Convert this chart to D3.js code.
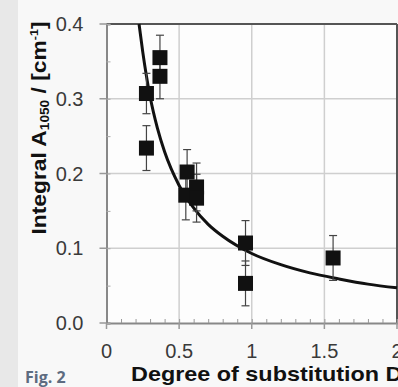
<!doctype html>
<html lang="en">
  <head>
    <meta charset="utf-8">
    <title>Integral A1050 vs degree of substitution</title>
    <script src="https://d3js.org/d3.v7.min.js"></script>
    <style>
      body { margin: 0; background: #f7f7f7; overflow: hidden; }
      .tickLabel { font-family: Arial, 'Liberation Sans', sans-serif; font-size: 20px; fill: #3a3a3a; }
      .axisTitle { font-family: Arial, 'Liberation Sans', sans-serif; font-size: 20px; font-weight: bold; fill: #111; }
    </style>
  </head>
  <body>
    <div id="holder"></div>
  </body>
  <script>
      // measured points (DS, integral) with error
      const dsValues = [0.275, 0.275, 0.368, 0.368, 0.555, 0.546, 0.62, 0.62, 0.957, 0.957, 1.56];
      const integralValues = [0.307, 0.234, 0.355, 0.330, 0.202, 0.171, 0.182, 0.167, 0.107, 0.053, 0.087];
      const errValues = [0.027, 0.03, 0.03, 0.03, 0.03, 0.033, 0.032, 0.032, 0.03, 0.03, 0.03];

      // fitted curve
      const fitX = [0.224, 0.25, 0.3, 0.35, 0.4, 0.5, 0.6, 0.7, 0.8, 1.0, 1.2, 1.4, 1.6, 1.8, 2.0];
      const fitY = [0.400, 0.362, 0.303, 0.261, 0.229, 0.184, 0.154, 0.132, 0.116, 0.093, 0.078, 0.067, 0.059, 0.052, 0.047];

      const xTicks = [0, 0.5, 1, 1.5, 2];
      const xTickLabels = ['0', '0.5', '1', '1.5', '2'];
      const yTicks = [0, 0.1, 0.2, 0.3, 0.4];
      const yTickLabels = ['0.0', '0.1', '0.2', '0.3', '0.4'];

      const w = 398, h = 387;
      const margin = {top: 24, right: 1, bottom: 64, left: 106.5};

      const svg = d3.select('#holder')
          .append('svg')
          .attr('width', w)
          .attr('height', h);

      // background: darker strip at the left edge
      svg.append('rect').attr('width', w).attr('height', h).attr('fill', '#f8f8f8');
      svg.append('rect').attr('width', 18).attr('height', h).attr('fill', '#e8e8e8');

      const x = d3.scaleLinear()
          .domain([0, 2])
          .range([margin.left, w - margin.right]);
      const y = d3.scaleLinear()
          .domain([0, 0.4])
          .range([h - margin.bottom, margin.top]);

      // plot area
      svg.append('rect')
          .attr('x', x(0)).attr('y', y(0.4))
          .attr('width', x(2) - x(0)).attr('height', y(0) - y(0.4))
          .attr('fill', '#fdfdfd');

      // grid
      svg.append('g')
          .selectAll('line')
          .data(xTicks.slice(1, -1))
          .enter().append('line')
          .attr('x1', d => x(d)).attr('x2', d => x(d))
          .attr('y1', y(0)).attr('y2', y(0.4))
          .attr('stroke', '#cfcfcf').attr('stroke-width', 1.5);
      svg.append('g')
          .selectAll('line')
          .data(yTicks.slice(1, -1))
          .enter().append('line')
          .attr('x1', x(0)).attr('x2', x(2))
          .attr('y1', d => y(d)).attr('y2', d => y(d))
          .attr('stroke', '#cfcfcf').attr('stroke-width', 1.5);

      // frame top / right
      svg.append('line')
          .attr('x1', x(0)).attr('x2', x(2)).attr('y1', y(0.4)).attr('y2', y(0.4))
          .attr('stroke', '#555').attr('stroke-width', 2);
      svg.append('line')
          .attr('x1', x(2)).attr('x2', x(2)).attr('y1', y(0.4)).attr('y2', y(0))
          .attr('stroke', '#555').attr('stroke-width', 2);

      // axes
      const xAxis = d3.axisBottom(x)
          .tickValues(d3.range(0, 2.0001, 0.1))
          .tickSize(-4)
          .tickFormat('');
      const gx = svg.append('g')
          .attr('transform', 'translate(0,' + y(0) + ')')
          .call(xAxis);
      gx.select('.domain').attr('stroke', '#888').attr('stroke-width', 2);
      gx.selectAll('.tick line').attr('stroke', '#999');

      const yAxis = d3.axisLeft(y)
          .tickValues(d3.range(0, 0.4001, 0.05))
          .tickSize(-4)
          .tickFormat('');
      const gy = svg.append('g')
          .attr('transform', 'translate(' + x(0) + ',0)')
          .call(yAxis);
      gy.select('.domain').attr('stroke', '#888').attr('stroke-width', 2);
      gy.selectAll('.tick line').attr('stroke', '#aaa');

      // outer major ticks
      svg.append('g').selectAll('line')
          .data(yTicks).enter().append('line')
          .attr('x1', x(0) - 7).attr('x2', x(0))
          .attr('y1', d => y(d)).attr('y2', d => y(d))
          .attr('stroke', '#999').attr('stroke-width', 1.5);
      svg.append('g').selectAll('line')
          .data(xTicks).enter().append('line')
          .attr('x1', d => x(d)).attr('x2', d => x(d))
          .attr('y1', y(0)).attr('y2', y(0) + 6)
          .attr('stroke', '#999').attr('stroke-width', 1.5);

      // tick labels
      svg.append('g').selectAll('text')
          .data(yTicks).enter().append('text')
          .attr('class', 'tickLabel')
          .attr('x', x(0) - 23)
          .attr('y', d => y(d) + 7)
          .attr('text-anchor', 'end')
          .text((d, i) => yTickLabels[i]);
      svg.append('g').selectAll('text')
          .data(xTicks).enter().append('text')
          .attr('class', 'tickLabel')
          .attr('x', d => x(d))
          .attr('y', 358)
          .attr('text-anchor', 'middle')
          .text((d, i) => xTickLabels[i]);

      // axis titles
      const yTitle = svg.append('text')
          .attr('class', 'axisTitle')
          .attr('transform', 'translate(46,128) rotate(-90) scale(1.14,1)')
          .attr('text-anchor', 'middle');
      yTitle.append('tspan').text('Integral A');
      yTitle.append('tspan').attr('font-size', '12px').attr('dy', 3).text('1050');
      yTitle.append('tspan').attr('dy', -3).text(' / [cm');
      yTitle.append('tspan').attr('font-size', '11px').attr('dy', -8).text('-1');
      yTitle.append('tspan').attr('dy', 8).text(']');

      svg.append('text')
          .attr('class', 'axisTitle')
          .attr('transform', 'translate(131,381) scale(1.17,1)')
          .text('Degree of substitution DS');

      svg.append('text')
          .attr('x', 25)
          .attr('y', 383)
          .attr('font-family', "'Open Sans', 'Noto Sans', sans-serif")
          .attr('font-size', '16px')
          .attr('font-weight', 'bold')
          .attr('fill', '#5d6b80')
          .text('Fig. 2');

      // fitted curve
      const fitData = fitX.map((d, i) => [d, fitY[i]]);
      svg.append('path')
          .datum(fitData)
          .attr('fill', 'none')
          .attr('stroke', '#111')
          .attr('stroke-width', 3)
          .attr('d', d3.line().x(d => x(d[0])).y(d => y(d[1])).curve(d3.curveMonotoneX));

      // error bars
      const pts = dsValues.map((d, i) => ({ds: d, v: integralValues[i], e: errValues[i]}));
      const eb = svg.append('g').attr('stroke', '#444').attr('stroke-width', 1.2);
      eb.selectAll('.bar').data(pts).enter().append('line')
          .attr('x1', d => x(d.ds)).attr('x2', d => x(d.ds))
          .attr('y1', d => y(d.v - d.e)).attr('y2', d => y(d.v + d.e));
      eb.selectAll('.capTop').data(pts).enter().append('line')
          .attr('x1', d => x(d.ds) - 4).attr('x2', d => x(d.ds) + 4)
          .attr('y1', d => y(d.v + d.e)).attr('y2', d => y(d.v + d.e));
      eb.selectAll('.capBot').data(pts).enter().append('line')
          .attr('x1', d => x(d.ds) - 4).attr('x2', d => x(d.ds) + 4)
          .attr('y1', d => y(d.v - d.e)).attr('y2', d => y(d.v - d.e));

      // markers
      const size = 15;
      svg.append('g').selectAll('rect')
          .data(pts).enter().append('rect')
          .attr('x', d => x(d.ds) - size / 2)
          .attr('y', d => y(d.v) - size / 2)
          .attr('width', size).attr('height', size)
          .attr('fill', '#111');
  </script>
</html>
